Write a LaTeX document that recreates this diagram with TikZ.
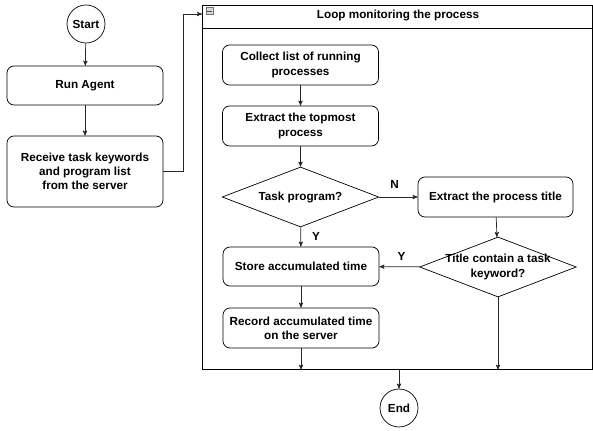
\documentclass[tikz,border=0pt]{standalone}
\usepackage{fontspec}
\setmainfont{Liberation Sans}
\usetikzlibrary{arrows,shapes.geometric}

\begin{document}
\begin{tikzpicture}[
    x = 0.03cm,
    y = -0.03cm,
    >=stealth',
    font = \fontsize{10}{12}\selectfont\bfseries,
    line width = 0.6pt,
    flow/.style = {
      ->,
      draw = black!85
    },
    stepbox/.style = {
      draw,
      rounded corners = 6pt,
      align = center,
      minimum width = 4.68cm,
      inner sep = 0pt
    },
    decision/.style = {
      draw,
      diamond,
      aspect = 2.6,
      inner sep = 0pt,
      minimum width = 4.7cm,
      minimum height = 1.8cm
    },
    terminal/.style = {
      draw,
      circle,
      inner sep = 0pt,
      minimum size = 1.14cm
    }
  ]
  \useasboundingbox (0,0) rectangle (593,431);

  % left column
  \node[terminal] (start) at (86,24) {Start};
  \node[stepbox, minimum height = 1.17cm] (agent) at (85,85.5) {Run Agent};
  \node[stepbox, minimum height = 2.13cm] (receive) at (85,171.5)
    {Receive task keywords\\and program list\\from the server};

  % loop container
  \node[draw, minimum width = 11.7cm, minimum height = 10.92cm, inner sep = 0pt,
        anchor = north west] (loop) at (202,5) {};
  \coordinate (hl) at (202,28);
  \coordinate (hr) at (592,28);
  \draw (hl) -- (hr);
  \node (title) at (398,16) {Loop monitoring the process};
  \node[draw = black!55, fill = black!15, line width = 0.4pt, minimum size = 0.2cm,
        inner sep = 0pt] (fold) at (209.5,11) {};
  \draw[black!70, line width = 0.6pt] ([xshift=1pt]fold.west) -- ([xshift=-1pt]fold.east);

  % inside the loop
  \node[stepbox, minimum height = 1.2cm] (collect) at (300.5,65)
    {Collect list of running\\processes};
  \node[stepbox, minimum height = 1.2cm] (topmost) at (300.5,126)
    {Extract the topmost\\process};
  \node[decision] (taskprog) at (300.5,197) {Task program?};
  \node[stepbox, minimum width = 4.65cm, minimum height = 1.2cm] (ptitle) at (495.5,197)
    {Extract the process title};
  \node[decision, label = {[align = center]center:Title contain a task\\keyword?}]
    (keyword) at (498,267) {};
  \node[stepbox, minimum height = 1.17cm] (store) at (301,266.5)
    {Store accumulated time};
  \node[stepbox, minimum height = 1.2cm] (record) at (301,328)
    {Record accumulated time\\on the server};
  \node[terminal] (end) at (399,408) {End};

  % connectors
  \draw[flow] (start) -- (agent);
  \draw[flow] (agent) -- (receive);
  \coordinate (bend) at (183,14);
  \draw[flow] (receive.east) -| (bend) -- (loop.west |- bend);
  \draw[flow] (collect) -- (topmost);
  \draw[flow] (topmost) -- (taskprog);
  \draw[flow] (taskprog) -- node[above = 4pt, pos = 0.4] (no) {N} (ptitle);
  \draw[flow] (taskprog) -- node[right = 6pt, pos = 0.45] (yes1) {Y} (store);
  \draw[flow] (ptitle) -- (keyword);
  \draw[flow] (keyword) -- node[above = 2pt, pos = 0.45] (yes2) {Y} (store);
  \draw[flow] (record.south) -- (record.south |- loop.south);
  \draw[flow] (keyword.south) -- (keyword.south |- loop.south);
  \draw[flow] (store) -- (record);
  \draw[flow] (loop.south -| end) -- (end);
\end{tikzpicture}
\end{document}
